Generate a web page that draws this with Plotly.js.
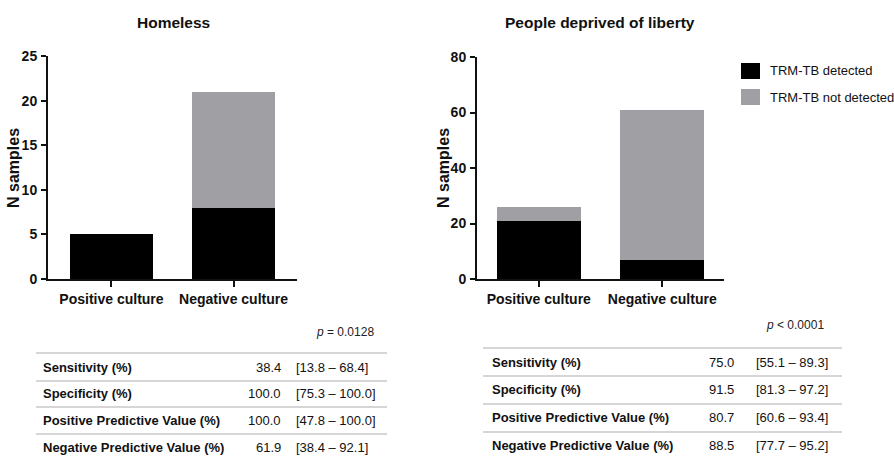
<!DOCTYPE html>
<html>
<head>
<meta charset="utf-8">
<script src="https://cdn.plot.ly/plotly-3.0.1.min.js"></script>
<style>html,body{margin:0;padding:0;background:#fff;}#chart{width:894px;height:458px;}</style>
</head>
<body>
<div id="chart"></div>
<script>
// ---- data ----
const categories = ['Positive culture', 'Negative culture'];
const seriesNames = ['TRM-TB detected', 'TRM-TB not detected'];
const homelessDetected = [5, 8];
const homelessNotDetected = [0, 13];
const pdlDetected = [21, 7];
const pdlNotDetected = [5, 54];
const panelTitles = ['Homeless', 'People deprived of liberty'];
const yTitle = 'N samples';
const metricLabels = ['Sensitivity (%)', 'Specificity (%)', 'Positive Predictive Value (%)', 'Negative Predictive Value (%)'];
const homelessValues = ['38.4', '100.0', '100.0', '61.9'];
const homelessCI = ['[13.8 – 68.4]', '[75.3 – 100.0]', '[47.8 – 100.0]', '[38.4 – 92.1]'];
const pdlValues = ['75.0', '91.5', '80.7', '88.5'];
const pdlCI = ['[55.1 – 89.3]', '[81.3 – 97.2]', '[60.6 – 93.4]', '[77.7 – 95.2]'];
const pTexts = ['<i>p</i> = 0.0128', '<i>p</i> < 0.0001'];

// ---- styling / layout helpers ----
const W = 894, H = 458;
const px = x => x / W;
const py = y => 1 - y / H;
const SANS = '"Liberation Sans", Arial, sans-serif';
const INK = '#111111';
const colors = ['#000000', '#a0a0a4'];

const traces = [
  {type: 'bar', x: categories, y: homelessDetected, name: seriesNames[0], marker: {color: colors[0], line: {width: 0}}, width: 0.68, xaxis: 'x', yaxis: 'y', showlegend: false},
  {type: 'bar', x: categories, y: homelessNotDetected, name: seriesNames[1], marker: {color: colors[1], line: {width: 0}}, width: 0.68, xaxis: 'x', yaxis: 'y', showlegend: false},
  {type: 'bar', x: categories, y: pdlDetected, name: seriesNames[0], marker: {color: colors[0], line: {width: 0}}, width: 0.68, xaxis: 'x2', yaxis: 'y2', showlegend: false},
  {type: 'bar', x: categories, y: pdlNotDetected, name: seriesNames[1], marker: {color: colors[1], line: {width: 0}}, width: 0.68, xaxis: 'x2', yaxis: 'y2', showlegend: false}
];

const tickFont = {family: SANS, size: 14, color: INK, weight: 'bold'};
function xAxis(domain, range, anchor) {
  return {domain, range, anchor, showline: true, linewidth: 2, linecolor: INK, ticks: 'outside', ticklen: 6, tickwidth: 2, tickcolor: INK,
    tickfont: tickFont, showgrid: false, zeroline: false, fixedrange: true, automargin: false};
}
function yAxis(domain, range, dtick, anchor) {
  return {domain, range, dtick, anchor, showline: true, linewidth: 2, linecolor: INK, ticks: 'outside', ticklen: 5, tickwidth: 2, tickcolor: INK,
    tickfont: tickFont, showgrid: false, zeroline: false, fixedrange: true, automargin: false, ticklabelstandoff: 1};
}

const annotations = [];
const shapes = [];
function note(text, x, y, xanchor, font, extra) {
  annotations.push(Object.assign({text, x: px(x), y: py(y), xref: 'paper', yref: 'paper', xanchor, yanchor: 'middle', showarrow: false, font}, extra || {}));
}
// panel titles
note('<b>' + panelTitles[0] + '</b>', 173, 22, 'center', {family: SANS, size: 15.5, color: INK});
note('<b>' + panelTitles[1] + '</b>', 600, 22, 'center', {family: SANS, size: 15.5, color: INK});
// y axis titles
note('<b>' + yTitle + '</b>', 14, 168, 'center', {family: SANS, size: 16, color: INK}, {textangle: -90});
note('<b>' + yTitle + '</b>', 444, 168, 'center', {family: SANS, size: 16, color: INK}, {textangle: -90});

// legend (drawn swatches)
const legendYs = [71, 97];
seriesNames.forEach((nm, i) => {
  shapes.push({type: 'rect', xref: 'paper', yref: 'paper', x0: px(741), x1: px(760), y0: py(legendYs[i] - 8), y1: py(legendYs[i] + 8), fillcolor: colors[i], line: {width: 0}});
  note(nm, 768, legendYs[i], 'left', {family: SANS, size: 13, color: INK});
});

// tables
const tables = [
  {values: homelessValues, ci: homelessCI, p: pTexts[0], pX: 376, pY: 332, lineYs: [353, 381, 407, 434], rowYs: [367, 393, 420, 447], x0: 36, x1: 387, labelX: 41, valX: 283, ciX: 294},
  {values: pdlValues, ci: pdlCI, p: pTexts[1], pX: 826, pY: 325, lineYs: [348, 376, 404, 432], rowYs: [362, 389, 417, 445], x0: 483, x1: 842, labelX: 490, valX: 736, ciX: 754}
];
tables.forEach(t => {
  note(t.p, t.pX, t.pY, 'right', {family: SANS, size: 12, color: '#222'});
  t.lineYs.forEach(ly => shapes.push({type: 'line', xref: 'paper', yref: 'paper', x0: px(t.x0), x1: px(t.x1), y0: py(ly), y1: py(ly), line: {color: '#c8c8c8', width: 1.5}}));
  metricLabels.forEach((lab, i) => {
    note('<b>' + lab + '</b>', t.labelX, t.rowYs[i], 'left', {family: SANS, size: 13, color: INK});
    note(t.values[i], t.valX, t.rowYs[i], 'right', {family: SANS, size: 13, color: INK});
    note(t.ci[i], t.ciX, t.rowYs[i], 'left', {family: SANS, size: 13, color: INK});
  });
});

const layout = {
  width: W, height: H,
  margin: {l: 0, r: 0, t: 0, b: 0},
  paper_bgcolor: '#fff', plot_bgcolor: '#fff',
  barmode: 'stack',
  showlegend: false,
  xaxis: xAxis([px(48), px(297)], [-0.52, 1.52], 'y'),
  yaxis: yAxis([py(279), py(56)], [0, 25], 5, 'x'),
  xaxis2: xAxis([px(477), px(724)], [-0.5, 1.5], 'y2'),
  yaxis2: yAxis([py(279), py(57)], [0, 80], 20, 'x2'),
  annotations, shapes
};

Plotly.newPlot('chart', traces, layout, {displayModeBar: false, staticPlot: true});
</script>
</body>
</html>
